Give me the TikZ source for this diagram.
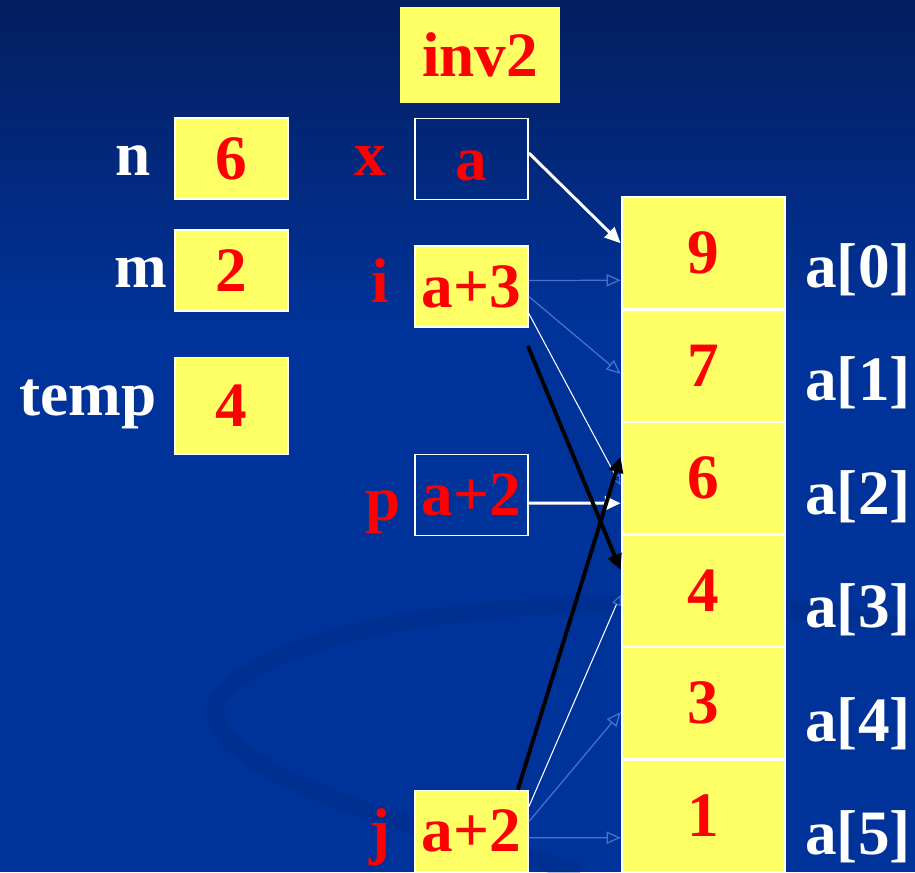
\documentclass[tikz,border=0pt]{standalone}
\usepackage{fontspec}
\setmainfont{Liberation Serif}
\usetikzlibrary{arrows.meta,positioning,calc}
\definecolor{bgtop}{RGB}{4,30,96}
\definecolor{bgblue}{RGB}{0,51,153}
\definecolor{swoosh}{RGB}{0,40,130}
\definecolor{boxyellow}{RGB}{255,255,102}
\definecolor{thinblue}{RGB}{70,115,205}

\begin{document}
\begin{tikzpicture}[x=0.02cm, y=-0.02cm,
  font=\fontsize{36}{40}\selectfont\bfseries,
  vbox/.style={draw=white, line width=1pt, fill=boxyellow, text=red,
    minimum width=2.26cm, minimum height=1.62cm, inner sep=0pt},
  pbox/.style={vbox, fill=none},
  cell/.style={draw=white, line width=1.6pt, fill=boxyellow, text=red,
    minimum width=3.26cm, minimum height=2.25cm, inner sep=0pt},
  wlbl/.style={text=white, anchor=base, inner sep=0pt},
  rlbl/.style={text=red, anchor=base, inner sep=0pt},
  thick ptr/.style={->, >={Triangle[length=9pt,width=8pt]}, line width=1.7pt},
  thin ptr/.style={->, >={Triangle[open,length=8pt,width=7pt]}, draw=thinblue, line width=0.7pt},
  white ptr/.style={-{Triangle[open,length=6pt,width=5pt,color=thinblue]}, draw=white, line width=0.6pt}]
  % fondo
  \useasboundingbox (0,0) rectangle (915,872);
  \fill[top color=bgtop, bottom color=bgblue] (0,0) rectangle (915,330);
  \fill[bgblue] (0,330) rectangle (915,872);
  \draw[swoosh, line width=10pt, opacity=0.3]
    (915,630) .. controls (750,585) and (300,590) .. (218,700)
    .. controls (190,770) and (420,830) .. (580,872);
  % marco de la funcion
  \node[vbox, draw=none, minimum width=3.2cm, minimum height=1.92cm] (fn) at (480,55) {inv2};
  % variables de main
  \node[vbox] (nv) at (231.5,158.5) {6};
  \node[vbox] (mv) at (231.5,270.5) {2};
  \node[vbox, minimum height=1.94cm] (tv) at (231.5,406) {4};
  \node[wlbl] (nl) at (133,175) {n};
  \node[wlbl] (ml) at (141,287) {m};
  \node[wlbl] (tl) at (88,415) {temp};
  % punteros
  \node[pbox, text height=25pt, text depth=0pt] (xp) at (471.5,159) {a};
  \node[vbox] (ip) at (471.5,286.5) {a+3};
  \node[pbox] (pp) at (471.5,495) {a+2};
  \node[vbox] (jp) at (471.5,831) {a+2};
  \node[rlbl] (xl) at (370,175) {x};
  \node[rlbl] (il) at (380,302) {i};
  \node[rlbl] (pl) at (383,520) {p};
  \node[rlbl] (jl) at (380,852) {j};
  % arreglo
  \foreach \v [count=\k from 0] in {9,7,6,4,3,1} {
    \node[cell] (c\k) at (703.5,253.25+112.5*\k) {\v};
    \node[wlbl, anchor=base west] (al\k) at (805,287+113.5*\k) {a[\k]};
  }
  % flechas
  \draw[thick ptr, white] (xp.east) ++(0,-6) -- ($(c0.west)+(0,-10)$);
  \draw[thick ptr, white] ($(pp.east)+(0,8)$) -- ($(c2.west)+(0,25)$);
  \draw[thin ptr] ($(ip.east)+(0,-6)$) -- ($(c0.west)+(0,27)$);
  \draw[thin ptr] ($(ip.east)+(0,10)$) -- ($(c1.west)+(0,8)$);
  \draw[white ptr] ($(ip.south east)+(-2,-18)$) -- ($(c2.west)+(0,7)$);
  \draw[thick ptr, black, line width=2.2pt] ($(ip.south east)+(-1,18)$) -- ($(c3.north west)+(0,37)$);
  \draw[thick ptr, black, line width=2.2pt] ($(jp.north east)+(-11,0)$) -- ($(c2.north west)+(0,36)$);
  \draw[white ptr] ($(jp.north east)+(0,17)$) -- ($(c3.west)+(0,4)$);
  \draw[thin ptr] ($(jp.north east)+(0,32)$) -- ($(c4.west)+(0,9)$);
  \draw[thin ptr] ($(jp.north east)+(0,48)$) -- ($(c5.west)+(0,22)$);
\end{tikzpicture}
\end{document}
